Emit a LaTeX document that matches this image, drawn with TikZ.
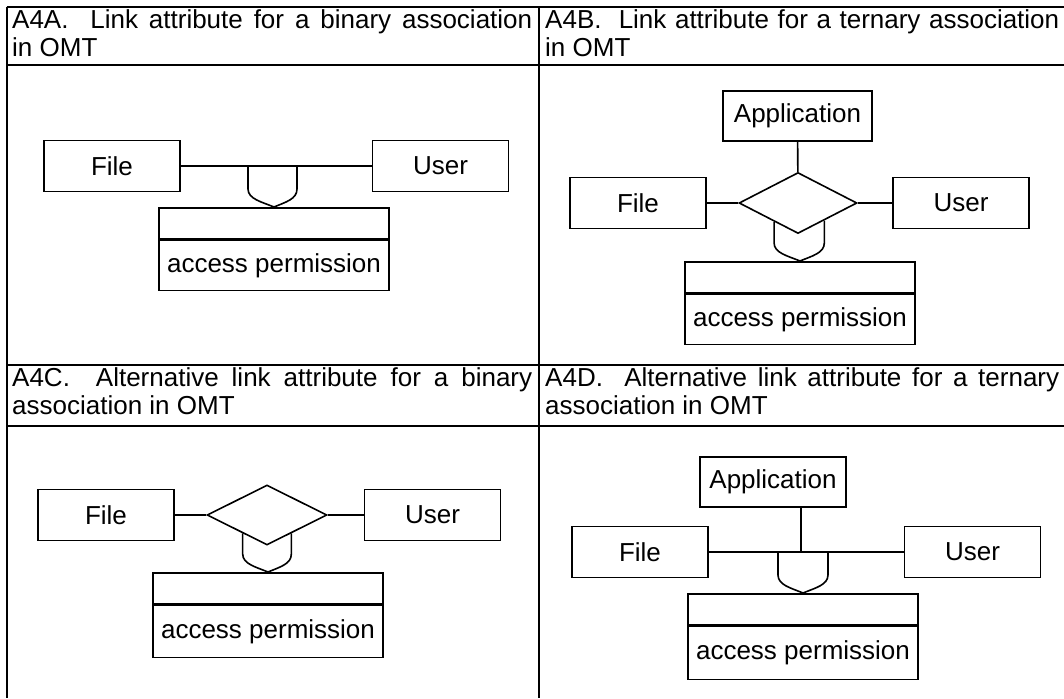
\documentclass[tikz,border=0pt]{standalone}
\usepackage{fontspec}
\setmainfont{Liberation Sans}
\usetikzlibrary{calc,positioning,shapes.geometric}
% cup-shaped link from an association line down to its attribute box
\def\linkcup(#1)(#2)(#3){\draw[link] (#1) -- ($(#1 |- #3)+(0,-18)$) .. controls +(0,10) and +(-12,-5) .. (#3) .. controls +(12,-5) and +(0,10) .. ($(#2 |- #3)+(0,-18)$) -- (#2);}

\tikzset{
  txt/.style={font=\fontsize{26}{28}\selectfont},
  cls/.style={draw, line width=1.6pt, txt, inner sep=0pt, minimum width=136pt, minimum height=51pt},
  rel/.style={draw, line width=1.6pt, diamond, inner sep=0pt, minimum width=118pt, minimum height=61pt},
  attrbox/.style={draw, line width=1.6pt, txt, inner sep=0pt, minimum width=230pt},
  link/.style={line width=1.6pt},
  rule/.style={line width=2pt},
  caption/.style={txt, anchor=north west, inner sep=0pt, align=justify}
}

\begin{document}
\begin{tikzpicture}[x=1pt, y=-1pt]
  \useasboundingbox (0,0) rectangle (1064,698);
  %%%%% TABLE %%%%%
  \draw[rule] (6.5,7) -- (1064,7);
  \draw[rule] (6.5,65) -- (1064,65);
  \draw[rule] (6.5,365) -- (1064,365);
  \draw[rule] (6.5,426) -- (1064,426);
  \draw[rule] (6.5,7) -- (6.5,698);
  \draw[rule] (539,7) -- (539,698);

  \node[caption, text width=520pt] (capA) at (12,9) {A4A.~ Link attribute for a binary association\linebreak in OMT};
  \node[caption, text width=514pt] (capB) at (545,9) {A4B.~ Link attribute for a ternary association\linebreak in OMT};
  \node[caption, text width=520pt] (capC) at (12,367) {A4C.~ Alternative link attribute for a binary\linebreak association in OMT};
  \node[caption, text width=514pt] (capD) at (545,367) {A4D.~ Alternative link attribute for a ternary\linebreak association in OMT};

  %%%%% A4A %%%%%
  \node[cls] (fileA) at (112,166) {File};
  \node[cls] (userA) at (440.5,166) {User};
  \draw[link] (fileA) -- (userA);
  \node[attrbox, minimum height=31pt, anchor=north] (attrA) at (274,207) {};
  \node[attrbox, minimum height=50pt, below=0pt of attrA] (permA) {access permission};
  \coordinate (lkAl) at (248,166);
  \coordinate (lkAr) at (297,166);
  \linkcup(lkAl)(lkAr)(attrA.north)

  %%%%% A4B %%%%%
  \node[cls, minimum width=149pt, minimum height=50pt] (appB) at (797.5,116) {Application};
  \node[rel] (relB) at (798,203) {};
  \node[cls] (fileB) at (638,203) {File};
  \node[cls] (userB) at (961,203) {User};
  \draw[link] (appB) -- (relB);
  \draw[link] (fileB) -- (relB) -- (userB);
  \node[attrbox, minimum height=31pt, anchor=north] (attrB) at (800,261) {};
  \node[attrbox, minimum height=50pt, below=0pt of attrB] (permB) {access permission};
  \coordinate (lkBl) at ($(relB.west)!0.6!(relB.south)$);
  \coordinate (lkBr) at ($(relB.east)!0.56!(relB.south)$);
  \linkcup(lkBl)(lkBr)(attrB.north)

  %%%%% A4C %%%%%
  \node[cls] (fileC) at (106,515) {File};
  \node[rel, minimum width=120pt, minimum height=60pt] (relC) at (267,515) {};
  \node[cls] (userC) at (432.5,515) {User};
  \draw[link] (fileC) -- (relC) -- (userC);
  \node[attrbox, minimum height=31pt, anchor=north] (attrC) at (268,572) {};
  \node[attrbox, minimum height=52pt, below=0pt of attrC] (permC) {access permission};
  \coordinate (lkCl) at ($(relC.west)!0.6!(relC.south)$);
  \coordinate (lkCr) at ($(relC.east)!0.6!(relC.south)$);
  \linkcup(lkCl)(lkCr)(attrC.north)

  %%%%% A4D %%%%%
  \node[cls, minimum width=146pt, minimum height=50pt] (appD) at (773,482) {Application};
  \node[cls] (fileD) at (640,552) {File};
  \node[cls] (userD) at (972.5,552) {User};
  \coordinate (jDtop) at (801,507);
  \coordinate (jD) at (jDtop |- fileD);
  \draw[link] (fileD) -- (userD);
  \draw[link] (jDtop) -- (jD);
  \node[attrbox, minimum height=31pt, anchor=north] (attrD) at (803,593) {};
  \node[attrbox, minimum height=53pt, below=0pt of attrD] (permD) {access permission};
  \coordinate (lkDl) at (778,552);
  \coordinate (lkDr) at (828,552);
  \linkcup(lkDl)(lkDr)(attrD.north)
\end{tikzpicture}
\end{document}
